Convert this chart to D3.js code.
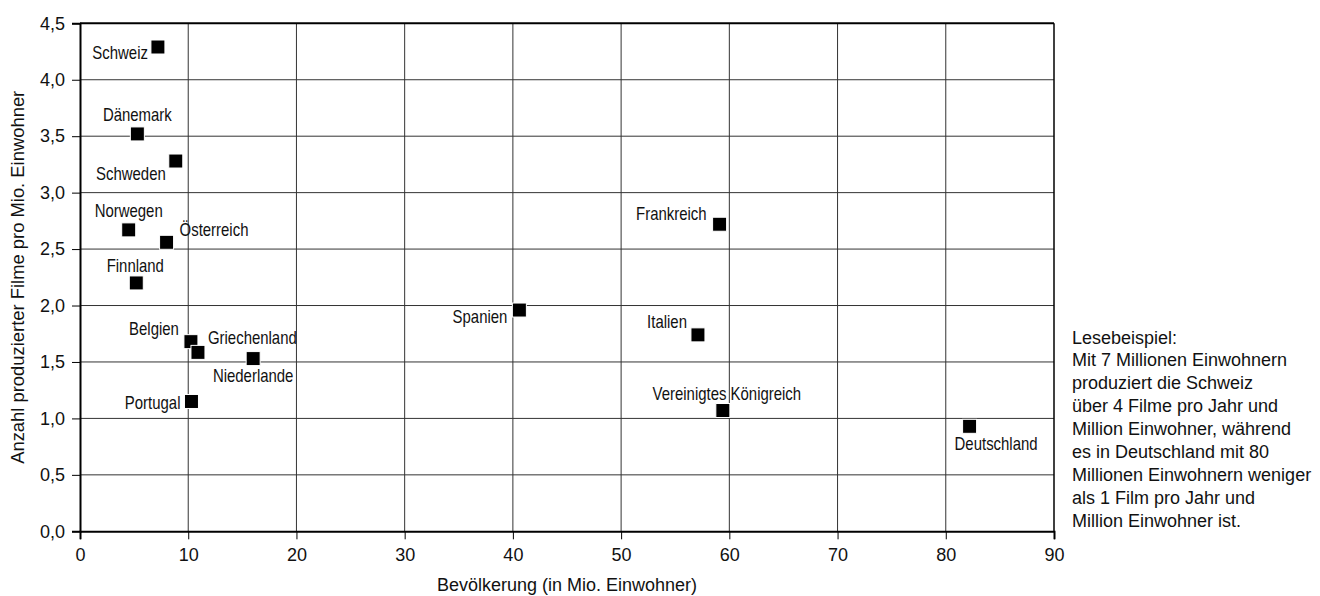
<!DOCTYPE html>
<html>
<head>
<meta charset="utf-8">
<script src="https://cdn.jsdelivr.net/npm/d3@7"></script>
<style>
  body { margin: 0; background: #fff; }
  svg { display: block; }
  .tick text { font-family: "Liberation Sans", Arial, sans-serif; font-size: 18px; fill: #111; }
  .lbl { font-family: "Liberation Sans", Arial, sans-serif; font-size: 18px; fill: #111; }
  .title { font-family: "Liberation Sans", Arial, sans-serif; font-size: 18px; fill: #111; }
</style>
</head>
<body>
<svg id="chart" width="1320" height="596"></svg>
<script>
// Länder, Bevölkerung (Mio.) und Filme pro Mio. Einwohner
const countries = ["Schweiz", "Dänemark", "Schweden", "Norwegen", "Österreich", "Finnland",
  "Belgien", "Griechenland", "Niederlande", "Portugal", "Spanien", "Frankreich", "Italien",
  "Vereinigtes Königreich", "Deutschland"];
const population = [7.2, 5.3, 8.85, 4.5, 8.0, 5.2, 10.25, 10.9, 16.0, 10.3, 40.6, 59.1, 57.1, 59.4, 82.2];
const films = [4.29, 3.52, 3.28, 2.67, 2.56, 2.20, 1.68, 1.585, 1.53, 1.15, 1.96, 2.72, 1.74, 1.07, 0.93];

const xTicks = [0, 10, 20, 30, 40, 50, 60, 70, 80, 90];
const yTicks = [0, 0.5, 1, 1.5, 2, 2.5, 3, 3.5, 4, 4.5];

const note = ["Lesebeispiel:", "Mit 7 Millionen Einwohnern", "produziert die Schweiz",
  "über 4 Filme pro Jahr und", "Million Einwohner, während", "es in Deutschland mit 80",
  "Millionen Einwohnern weniger", "als 1 Film pro Jahr und", "Million Einwohner ist."];

// label placement relative to the marker: [anchor, dx, dy]
const labelPlace = {
  "Schweiz": ["end", -10, 12],
  "Dänemark": ["middle", 0, -13],
  "Schweden": ["end", -10, 19],
  "Norwegen": ["middle", 0, -13],
  "Österreich": ["start", 13, -6],
  "Finnland": ["middle", -1, -11],
  "Belgien": ["end", -12, -7],
  "Griechenland": ["start", 10, -8],
  "Niederlande": ["middle", 0, 23],
  "Portugal": ["end", -11, 8],
  "Spanien": ["end", -12, 13],
  "Frankreich": ["end", -13, -4],
  "Italien": ["end", -11, -7],
  "Vereinigtes Königreich": ["middle", 4, -11],
  "Deutschland": ["start", -15, 24]
};

const svg = d3.select("#chart");
const mLeft = 80, mRight = 1054, mTop = 23.3, mBottom = 531.3;

const x = d3.scaleLinear().domain([0, 90]).range([mLeft, mRight]);
const y = d3.scaleLinear().domain([0, 4.5]).range([mBottom, mTop]);

const fmt = d => d3.format(".1f")(d).replace(".", ",");

// gridlines
svg.append("g").selectAll("line").data(xTicks.slice(1, -1)).enter().append("line")
  .attr("x1", d => x(d)).attr("x2", d => x(d)).attr("y1", mTop).attr("y2", mBottom)
  .attr("stroke", "#333").attr("stroke-width", 1);
svg.append("g").selectAll("line").data(yTicks.slice(1, -1)).enter().append("line")
  .attr("x1", mLeft).attr("x2", mRight).attr("y1", d => y(d)).attr("y2", d => y(d))
  .attr("stroke", "#333").attr("stroke-width", 1);

// frame
svg.append("line").attr("x1", mLeft).attr("x2", mRight).attr("y1", mTop).attr("y2", mTop)
  .attr("stroke", "#000").attr("stroke-width", 2);
svg.append("line").attr("x1", mRight).attr("x2", mRight).attr("y1", mTop).attr("y2", mBottom)
  .attr("stroke", "#000").attr("stroke-width", 1.5);

// axes
const xAxis = svg.append("g").attr("transform", `translate(0,${mBottom})`)
  .call(d3.axisBottom(x).tickValues(xTicks).tickSize(8).tickPadding(9).tickFormat(d3.format("d")));
const yAxis = svg.append("g").attr("transform", `translate(${mLeft},0)`)
  .call(d3.axisLeft(y).tickValues(yTicks).tickSize(8).tickPadding(7).tickFormat(fmt));
[xAxis, yAxis].forEach(a => {
  a.select(".domain").attr("stroke", "#000").attr("stroke-width", 2);
  a.selectAll(".tick line").attr("stroke", "#000").attr("stroke-width", 1);
  a.attr("font-size", null).attr("font-family", null);
});

// axis titles
svg.append("text").attr("class", "title")
  .attr("x", (mLeft + mRight) / 2).attr("y", 591).attr("text-anchor", "middle")
  .text("Bevölkerung (in Mio. Einwohner)");
svg.append("text").attr("class", "title")
  .attr("transform", `translate(24,${(mTop + mBottom) / 2}) rotate(-90)`)
  .attr("text-anchor", "middle").style("font-size", "18.4px")
  .text("Anzahl produzierter Filme pro Mio. Einwohner");

// markers
const pts = countries.map((c, i) => ({ name: c, pop: population[i], val: films[i] }));
const s = 14;
svg.append("g").selectAll("rect").data(pts).enter().append("rect")
  .attr("x", d => x(d.pop) - s / 2).attr("y", d => y(d.val) - s / 2)
  .attr("width", s).attr("height", s)
  .attr("fill", "#000").attr("stroke", "#fff").attr("stroke-width", 1);

// condensed labels (no narrow face installed, so squeeze horizontally)
svg.append("g").selectAll("text").data(pts).enter().append("text")
  .attr("class", "lbl")
  .attr("text-anchor", d => labelPlace[d.name][0])
  .attr("transform", d => `translate(${x(d.pop) + labelPlace[d.name][1]},${y(d.val) + labelPlace[d.name][2]}) scale(0.83,1)`)
  .text(d => d.name);

// reading example
svg.append("g").selectAll("text").data(note).enter().append("text")
  .attr("class", "title")
  .attr("x", 1072).attr("y", (d, i) => 343.5 + i * 22.9)
  .text(d => d);
</script>
</body>
</html>
